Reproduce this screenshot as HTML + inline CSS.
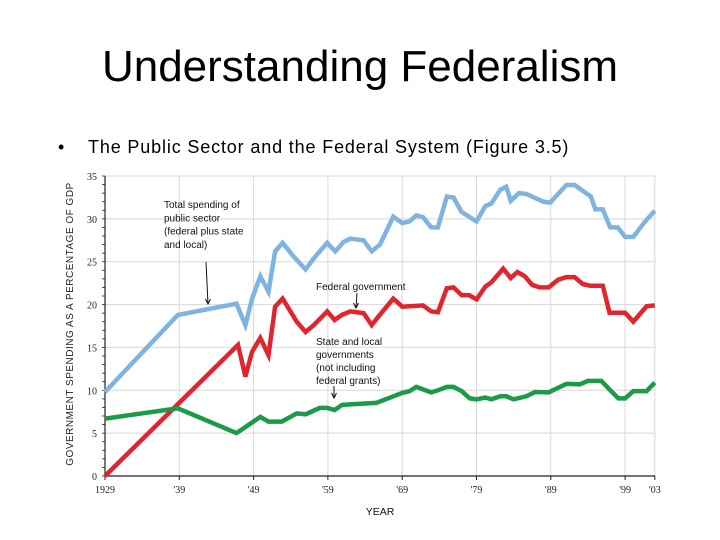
<!DOCTYPE html>
<html><head><meta charset="utf-8"><style>
body{margin:0;background:#fff;width:720px;height:540px;overflow:hidden;font-family:"Liberation Sans",sans-serif}
#title{position:absolute;left:0;width:720px;top:42px;text-align:center;font-size:44px;color:#000}
#bullet{position:absolute;left:58px;top:137px;font-size:18px;color:#000}
#btext{position:absolute;left:88px;top:137px;font-size:18px;letter-spacing:0.85px;color:#000;white-space:nowrap}
svg{position:absolute;left:0;top:0}
</style></head><body>
<div id="title">Understanding Federalism</div>
<div id="bullet">•</div>
<div id="btext">The Public Sector and the Federal System (Figure 3.5)</div>
<svg id="chart" width="720" height="540"></svg>
<script>
const yTicks=[0,5,10,15,20,25,30,35];
const xTickYears=[1929,1939,1949,1959,1969,1979,1989,1999,2003];
const xTickLabels=["1929","'39","'49","'59","'69","'79","'89","'99","'03"];
const totalYears=[1929,1938.8,1946.7,1947.9,1948.8,1949.9,1951,1951.9,1952.9,1954.4,1956,1957.1,1958.9,1960,1961.1,1962,1963.8,1964.9,1966,1967.8,1969,1970,1970.9,1971.8,1972.9,1973.8,1975,1975.9,1977,1978.1,1979,1980.2,1981,1982.2,1983,1983.6,1984.7,1985.7,1988,1988.9,1991.1,1992.2,1994.4,1995,1996,1997,1998,1999,2000.1,2001.6,2003];
const totalValues=[9.8,18.8,20.1,17.6,20.7,23.3,21.5,26.2,27.2,25.6,24.1,25.4,27.2,26.2,27.3,27.7,27.5,26.2,27.0,30.25,29.5,29.7,30.4,30.2,29.0,29.0,32.6,32.5,30.8,30.2,29.7,31.5,31.8,33.4,33.75,32.1,33.0,32.9,32.0,31.9,33.95,33.95,32.6,31.1,31.1,29.0,29.0,27.9,27.9,29.6,30.95];
const fedYears=[1929,1946.9,1947.9,1948.8,1949.9,1951,1951.9,1952.9,1954.8,1956,1957.1,1958.9,1959.9,1960.9,1962,1963.8,1964.9,1965.8,1967.8,1969,1971.8,1972.9,1973.8,1975,1975.9,1977,1978,1979,1980.2,1981,1982.2,1982.6,1983.6,1984.5,1985.5,1986.5,1987.5,1988.7,1990,1991.1,1992.2,1993.3,1994.3,1996,1996.9,1999,2000.1,2001.9,2003];
const fedValues=[0,15.3,11.6,14.5,16.1,14.1,19.75,20.7,18.0,16.8,17.6,19.2,18.2,18.8,19.2,19.0,17.6,18.6,20.7,19.75,19.9,19.2,19.1,21.9,22.0,21.1,21.1,20.6,22.1,22.6,23.8,24.2,23.1,23.8,23.3,22.3,22.0,22.0,22.9,23.2,23.2,22.4,22.2,22.2,19.05,19.05,18.0,19.8,19.9];
const stateYears=[1929,1938.8,1946.7,1949.9,1951,1952.8,1954.8,1956,1957.9,1958.9,1959.9,1960.9,1962,1964.9,1965.6,1967.8,1969,1970,1970.9,1971.8,1972.9,1973.8,1975,1975.9,1977,1978.1,1979,1980.2,1981,1982.2,1983,1984,1985.7,1986.9,1988.7,1991.1,1992.9,1994,1995.8,1996.9,1998.1,1999,2000.1,2001.9,2003];
const stateValues=[6.7,7.9,5.0,6.9,6.35,6.35,7.3,7.2,7.95,7.95,7.7,8.3,8.35,8.5,8.55,9.3,9.7,9.9,10.4,10.1,9.75,10.0,10.4,10.4,9.9,9.05,8.95,9.15,8.95,9.3,9.3,8.95,9.3,9.8,9.75,10.75,10.7,11.1,11.1,10.1,9.05,9.05,9.9,9.9,10.9];
const X0=105,XS=7.43,Y0=476,YS=300/35;
function xs(y){return X0+(y-1929)*XS;}
function ys(v){return Y0-v*YS;}
const svg=document.getElementById('chart');
const NS='http://www.w3.org/2000/svg';
function mk(t,a){const e=document.createElementNS(NS,t);for(const k in a)e.setAttribute(k,a[k]);svg.appendChild(e);return e;}
yTicks.forEach(v=>{if(v>0){const l=mk('line',{x1:X0,x2:655,y1:ys(v),y2:ys(v),stroke:'#d8d8d8','stroke-width':1});

}
const t=mk('text',{x:97,y:ys(v)+4,'text-anchor':'end','font-size':10,fill:'#222','font-family':'Liberation Serif, serif'});t.textContent=v;

});
xTickYears.forEach((yr,i)=>{if(yr>1929){const l=mk('line',{x1:xs(yr),x2:xs(yr),y1:ys(35),y2:Y0,stroke:'#d8d8d8','stroke-width':1});

}
const tk=mk('line',{x1:xs(yr),x2:xs(yr),y1:Y0,y2:Y0+4,stroke:'#222'});


const t=mk('text',{x:xs(yr),y:Y0+17,'text-anchor':'middle','font-size':10,fill:'#222','font-family':'Liberation Serif, serif'});t.textContent=xTickLabels[i];

});
const ya=mk('line',{x1:X0,x2:X0,y1:ys(35),y2:Y0,stroke:'#222','stroke-width':1.2});


const xa=mk('line',{x1:X0,x2:655,y1:Y0,y2:Y0,stroke:'#222','stroke-width':1.2});


for(let v=0;v<=35;v++){const m=mk('line',{x1:X0-3,x2:X0,y1:ys(v),y2:ys(v),stroke:'#222','stroke-width':0.8});

}
function series(yrs,vals,col,name){const p=yrs.map((y,i)=>xs(y).toFixed(1)+','+ys(vals[i]).toFixed(1)).join(' ');
const l=mk('polyline',{points:p,fill:'none',stroke:col,'stroke-width':4.5,'stroke-linejoin':'miter'});

}
series(totalYears,totalValues,'#7fb3e0','total-spending-line');
series(fedYears,fedValues,'#e0262c','federal-line');
series(stateYears,stateValues,'#1b9a4a','state-local-line');
function txt(x,y,s,sz,name,anchor){const t=mk('text',{x:x,y:y,'font-size':sz,fill:'#111','text-anchor':anchor||'start'});t.textContent=s;

return t;}
['Total spending of','public sector','(federal plus state','and local)'].forEach((s,i)=>txt(164,208+i*13.3,s,10,'total-annotation'));
txt(316,290,'Federal government',10,'federal-annotation');
['State and local','governments','(not including','federal grants)'].forEach((s,i)=>txt(316,345+i*13,s,10,'state-annotation'));
function arrow(x1,y1,x2,y2,name){const a=mk('path',{d:`M${x1},${y1} L${x2},${y2} M${x2-2.5},${y2-5} L${x2},${y2} L${x2+2.5},${y2-5}`,stroke:'#111',fill:'none','stroke-width':1});

}
arrow(206,262,208,304,'total-arrow');
arrow(357,293,356,308,'federal-arrow');
arrow(334,386,334,398,'state-arrow');
const yt=mk('text',{x:0,y:0,'font-size':10,fill:'#222','text-anchor':'middle','letter-spacing':'0.5',transform:'translate(73,324) rotate(-90)'});
yt.textContent='GOVERNMENT SPENDING AS A PERCENTAGE OF GDP';


const xt=txt(380,515,'YEAR',10.5,'x-axis-title','middle');
</script>
</body></html>
